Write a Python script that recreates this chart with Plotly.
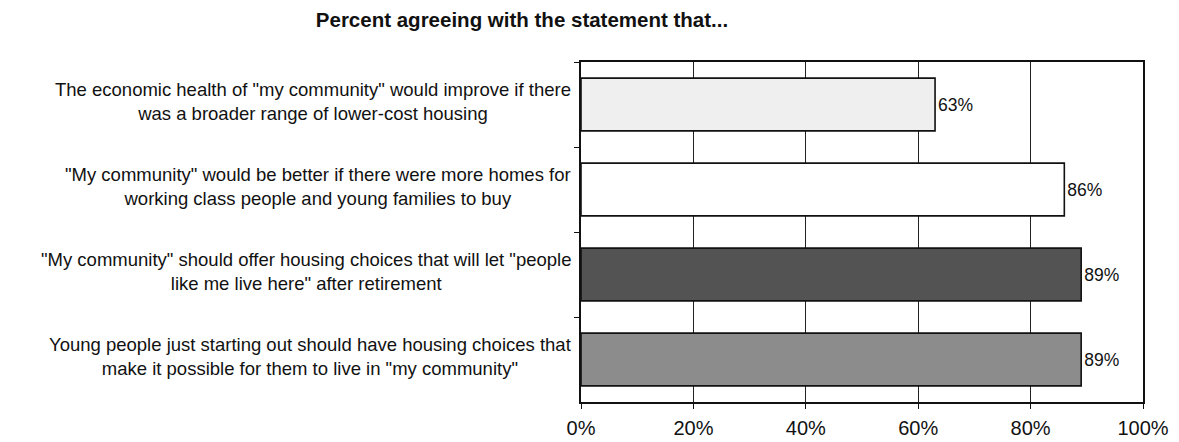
import plotly.graph_objects as go

categories = [
    'The economic health of "my community" would improve if there<br>was a broader range of lower-cost housing',
    '"My community" would be better if there were more homes for<br>working class people and young families to buy',
    '"My community" should offer housing choices that will let "people<br>like me live here" after retirement',
    'Young people just starting out should have housing choices that<br>make it possible for them to live in "my community"',
]
values = [63, 86, 89, 89]
value_labels = ["63%", "86%", "89%", "89%"]
bar_colors = ["#efefef", "#ffffff", "#535353", "#8c8c8c"]
tick_values = [0, 20, 40, 60, 80, 100]
tick_labels = ["0%", "20%", "40%", "60%", "80%", "100%"]
title_text = "<b>Percent agreeing with the statement that...</b>"

font_family = "Liberation Sans, Arial, sans-serif"

# page body adds an 8px offset; figure sized so the plot lands where the reference has it
W, H = 1171, 434

fig = go.Figure(
    go.Bar(
        x=values,
        y=categories,
        orientation="h",
        width=0.62,
        marker=dict(color=bar_colors, line=dict(color="#111111", width=1.6)),
        text=value_labels,
        textposition="outside",
        textfont=dict(size=17.5, color="#111111", family=font_family),
        cliponaxis=False,
    )
)

for cat in categories:
    fig.add_annotation(
        x=0, xref="paper", y=cat, yref="y",
        text=cat, showarrow=False, xanchor="right", yanchor="middle",
        align="center", xshift=-8, yshift=3,
        font=dict(size=18.5, color="#111111", family=font_family),
    )

fig.update_layout(
    width=W, height=H,
    margin=dict(l=573, r=36, t=54, b=40),
    paper_bgcolor="white", plot_bgcolor="white",
    showlegend=False,
    title=dict(text=title_text, x=514 / W, xref="container", xanchor="center",
               y=1 - 12 / H, yref="container", yanchor="middle",
               font=dict(size=20.5, color="#111111", family=font_family)),
    xaxis=dict(range=[0, 100], tickvals=tick_values, ticktext=tick_labels,
               showgrid=True, gridcolor="#222222", gridwidth=1,
               showline=True, linecolor="#111111", linewidth=1.5, mirror=True,
               zeroline=False, ticks="outside", ticklen=5, tickcolor="#111111",
               ticklabelstandoff=2, automargin=False,
               tickfont=dict(size=20, color="#111111", family=font_family)),
    yaxis=dict(autorange="reversed", showticklabels=False, tickson="boundaries",
               ticks="outside", ticklen=5, tickcolor="#111111",
               showgrid=False, showline=True, linecolor="#111111", linewidth=1.5,
               mirror=True),
    bargap=0.38,
)

fig.write_html("out.html")
